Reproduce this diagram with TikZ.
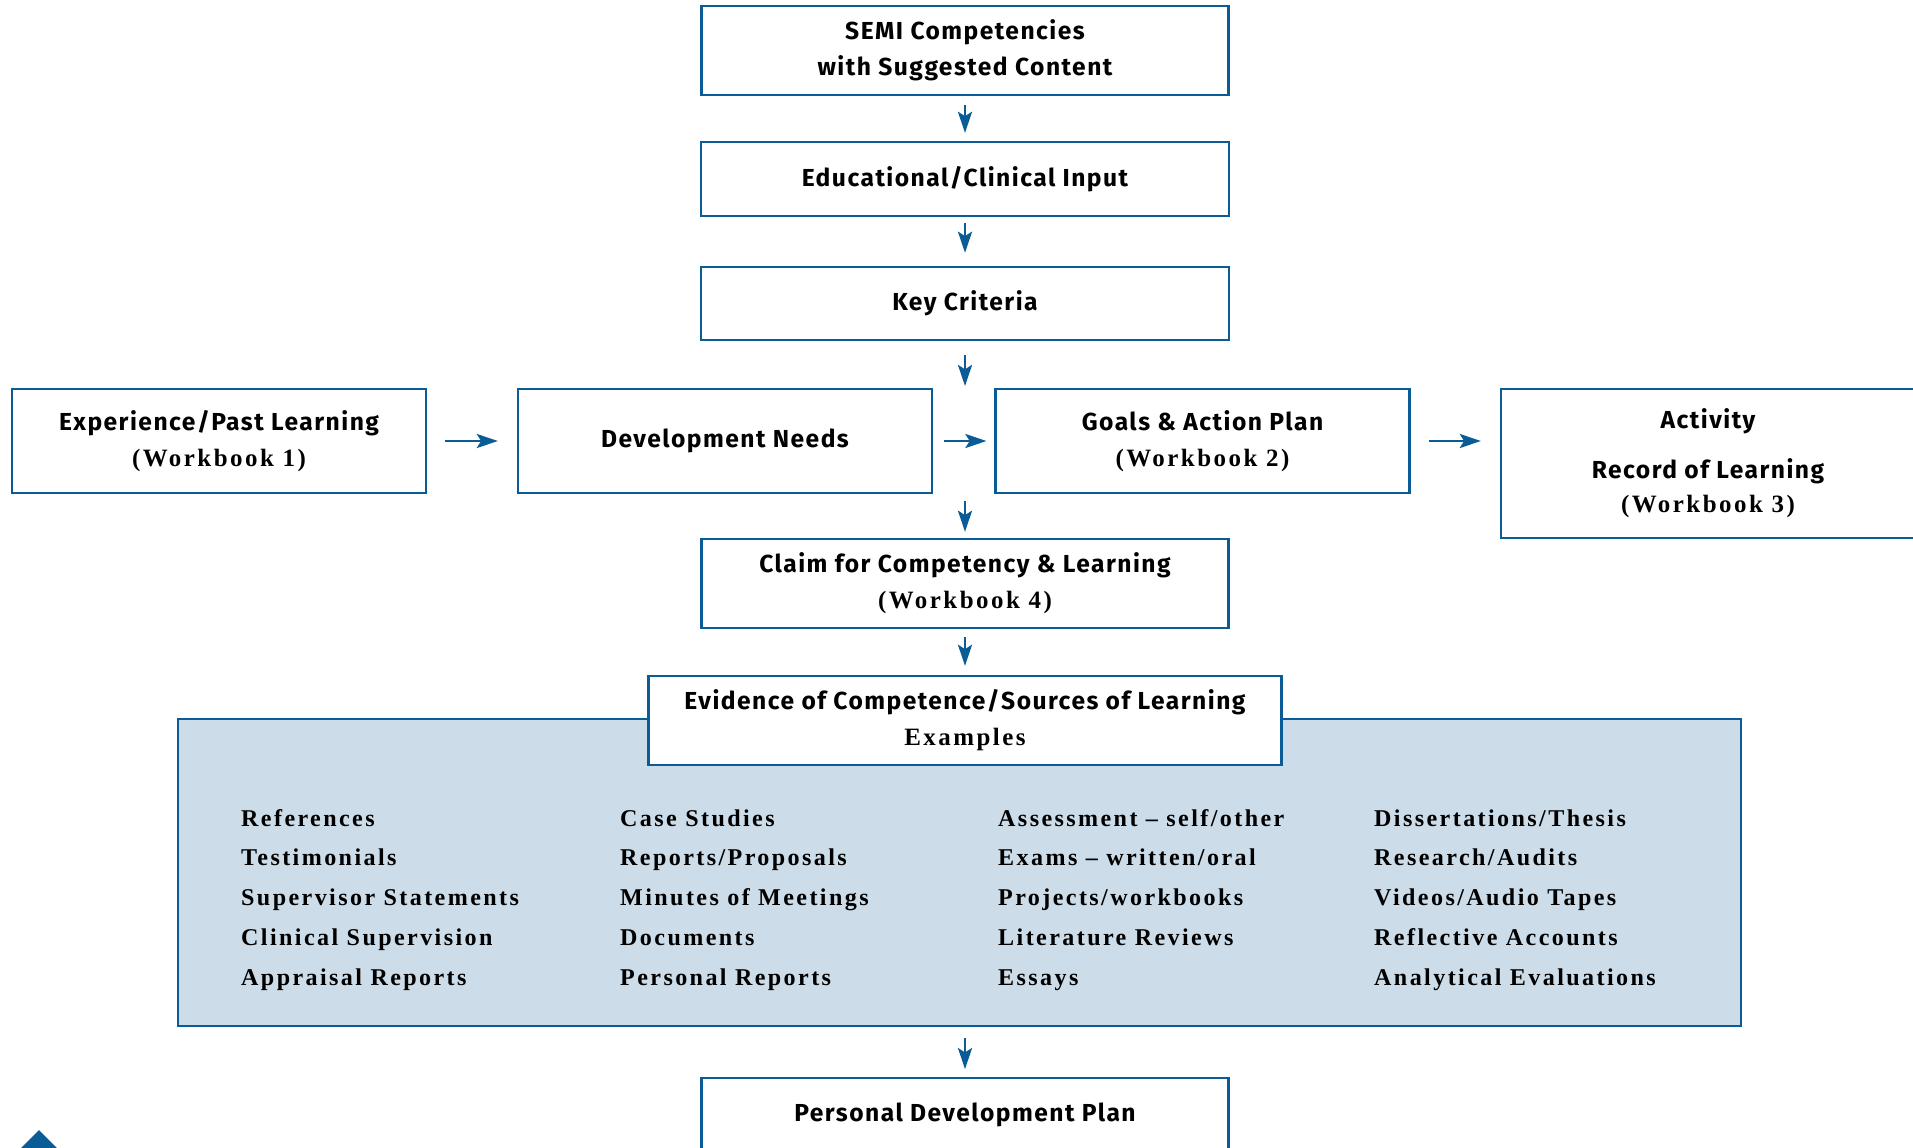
\documentclass[tikz,border=0pt]{standalone}
\usepackage{fontspec}
\setmainfont{Liberation Serif}
\newfontfamily\headfont[LetterSpace=6]{Fira Sans}
\newfontfamily\wbfont[LetterSpace=10]{Liberation Serif}
\usetikzlibrary{arrows.meta}
\definecolor{semiblue}{HTML}{0A5C96}
\definecolor{panelblue}{HTML}{CCDCE8}
\newcommand{\wbk}[1]{{\wbfont\bfseries\fontsize{14.2}{20.5}\selectfont #1}}

\begin{document}
\begin{tikzpicture}[x=0.02cm, y=-0.02cm,
  flowbox/.style={draw=semiblue, line width=1.4pt, fill=white, align=center, inner sep=0pt,
    font=\headfont\bfseries\fontsize{14}{20.5}\selectfont},
  arr/.style={draw=semiblue, line width=1.5pt, -{Stealth[length=12pt, width=8pt, inset=2.5pt]}},
  item/.style={anchor=base west, font=\wbfont\bfseries\fontsize{13.7}{16}\selectfont}]
  \useasboundingbox (0,0) rectangle (1913,1147);
  \clip (0,0) rectangle (1913,1147);
  % central column
  \node[flowbox, minimum width=10.54cm, minimum height=1.78cm] (semi) at (965,50.5) {SEMI Competencies\\with Suggested Content};
  \node[flowbox, minimum width=10.56cm, minimum height=1.48cm] (input) at (965,179) {Educational/Clinical Input};
  \node[flowbox, minimum width=10.56cm, minimum height=1.46cm] (key) at (965,303.5) {Key Criteria};
  % workbook row
  \node[flowbox, minimum width=8.28cm, minimum height=2.08cm] (exp) at (219,441) {Experience/Past Learning\\\wbk{(Workbook 1)}};
  \node[flowbox, minimum width=8.28cm, minimum height=2.08cm] (dev) at (725,441) {Development Needs};
  \node[flowbox, minimum width=8.28cm, minimum height=2.08cm] (goals) at (1202.5,441) {Goals \& Action Plan\\\wbk{(Workbook 2)}};
  \node[flowbox, minimum width=8.28cm, minimum height=2.98cm] (act) at (1708,463.5) {Activity\\[8pt]Record of Learning\\[-1pt]\wbk{(Workbook 3)}};
  \coordinate (jtop) at (965,389);
  \coordinate (jbot) at (965,493);
  \node[flowbox, minimum width=10.54cm, minimum height=1.78cm] (claim) at (965,583.5) {Claim for Competency \& Learning\\\wbk{(Workbook 4)}};
  % evidence panel
  \node[draw=semiblue, fill=panelblue, line width=1.4pt, inner sep=0pt, minimum width=31.26cm, minimum height=6.14cm] (panel) at (959.5,872.5) {};
  \node[flowbox, minimum width=12.66cm, minimum height=1.78cm] (evid) at (965,720.5) {Evidence of Competence/Sources of Learning\\\wbk{Examples}};
  \foreach \txt [count=\r] in {References, Testimonials, Supervisor Statements, Clinical Supervision, Appraisal Reports}
    \node[item] (a\r) at (235,786.5+39.7*\r) {\txt};
  \foreach \txt [count=\r] in {Case Studies, Reports/Proposals, Minutes of Meetings, Documents, Personal Reports}
    \node[item] (b\r) at (614,786.5+39.7*\r) {\txt};
  \foreach \txt [count=\r] in {Assessment – self/other, Exams – written/oral, Projects/workbooks, Literature Reviews, Essays}
    \node[item] (c\r) at (992,786.5+39.7*\r) {\txt};
  \foreach \txt [count=\r] in {Dissertations/Thesis, Research/Audits, Videos/Audio Tapes, Reflective Accounts, Analytical Evaluations}
    \node[item] (d\r) at (1368,786.5+39.7*\r) {\txt};
  \node[flowbox, anchor=north, minimum width=10.54cm, inner ysep=14pt, text depth=40pt] (pdp) at (965,1077) {Personal Development Plan};
  % arrows
  \draw[arr, shorten <=5.1pt, shorten >=4.5pt] (semi) -- (input);
  \draw[arr, shorten <=3.4pt, shorten >=7.4pt] (input) -- (key);
  \draw[arr, shorten <=7.9pt, shorten >=1.7pt] (key) -- (jtop);
  \draw[arr, shorten <=4.5pt, shorten >=3.4pt] (jbot) -- (claim);
  \draw[arr, shorten <=4.5pt, shorten >=5.1pt] (claim) -- (evid);
  \draw[arr, shorten <=6.2pt, shorten >=4.5pt] (pdp.north |- panel.south) -- (pdp.north);
  \draw[arr, shorten <=10.2pt, shorten >=10.8pt] (exp) -- (dev);
  \draw[arr, shorten <=6.2pt, shorten >=4.5pt] (dev) -- (goals);
  \draw[arr, shorten <=10.2pt, shorten >=10.8pt] (goals.east) -- (goals.east -| act.west);
  \fill[semiblue] (9,1160) -- (39,1130) -- (69,1160) -- cycle;
\end{tikzpicture}
\end{document}
